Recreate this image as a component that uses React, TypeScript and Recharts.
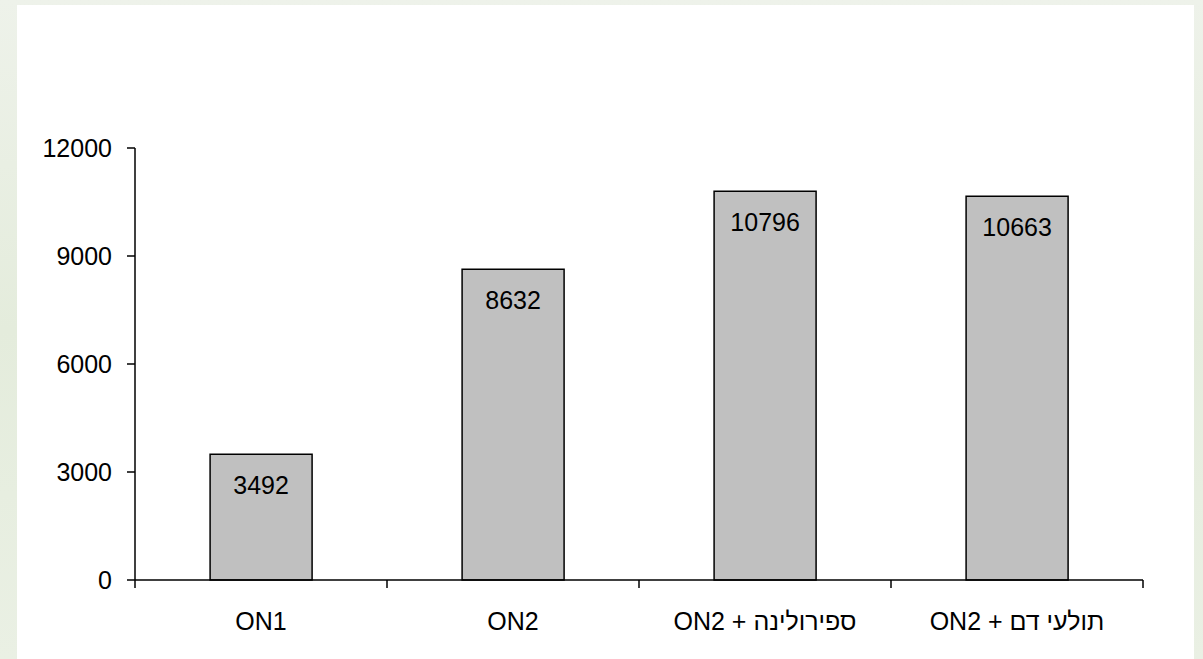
import { BarChart, Bar, XAxis, YAxis, LabelList } from 'recharts';

const categories = ['ON1', 'ON2', 'ON2 + ספירולינה', 'ON2 + תולעי דם'];
const values = [3492, 8632, 10796, 10663];
const yTicks = [0, 3000, 6000, 9000, 12000];

const data = categories.map((name, i) => ({ name, value: values[i] }));

const FONT = '"Liberation Sans", Arial, sans-serif';

// category label plus tick marks on the category edges (Excel style)
function EdgeTick(props: any) {
  const { x, y, payload, index, visibleTicksCount } = props;
  const half = payload.offset ?? 0;
  const axisY = y - 8;
  const isLast = index === visibleTicksCount - 1;
  return (
    <g>
      <line x1={x - half} y1={axisY} x2={x - half} y2={axisY + 8} stroke="#000" strokeWidth={1.5} />
      {isLast && (
        <line x1={x + half} y1={axisY} x2={x + half} y2={axisY + 8} stroke="#000" strokeWidth={1.5} />
      )}
      <text x={x} y={axisY + 50} textAnchor="middle" fontSize={25} fontFamily={FONT} fill="#000">
        {payload.value}
      </text>
    </g>
  );
}

export default function App() {
  return (
    <div
      style={{
        position: 'absolute',
        left: 0,
        top: 0,
        width: 1203,
        height: 659,
        overflow: 'hidden',
        background: 'linear-gradient(180deg, #eef2ea 0%, #e4ecdc 50%, #eaf0e4 100%)',
      }}
    >
      <div style={{ position: 'absolute', left: 17, top: 5, width: 1177, height: 660, background: '#fff' }} />
      <div style={{ position: 'absolute', left: 0, top: 0 }}>
        <BarChart
          width={1203}
          height={659}
          data={data}
          margin={{ top: 148, right: 60, bottom: 39, left: 0 }}
          barCategoryGap="29.8%"
        >
          <XAxis
            dataKey="name"
            height={40}
            axisLine={{ stroke: '#000', strokeWidth: 1.5 }}
            tickLine={false}
            tickSize={8}
            tickMargin={0}
            interval={0}
            tick={<EdgeTick />}
          />
          <YAxis
            width={135}
            domain={[0, 12000]}
            ticks={yTicks}
            interval={0}
            axisLine={{ stroke: '#000', strokeWidth: 1.5 }}
            tickLine={{ stroke: '#000', strokeWidth: 1.5 }}
            tickSize={8}
            tickMargin={15}
            tick={{ fill: '#000', fontSize: 25, fontFamily: FONT }}
          />
          <Bar dataKey="value" fill="#c0c0c0" stroke="#000" strokeWidth={1.5} isAnimationActive={false}>
            <LabelList
              dataKey="value"
              position="insideTop"
              offset={22}
              fill="#000"
              fontSize={25}
              fontFamily={FONT}
            />
          </Bar>
        </BarChart>
      </div>
    </div>
  );
}
